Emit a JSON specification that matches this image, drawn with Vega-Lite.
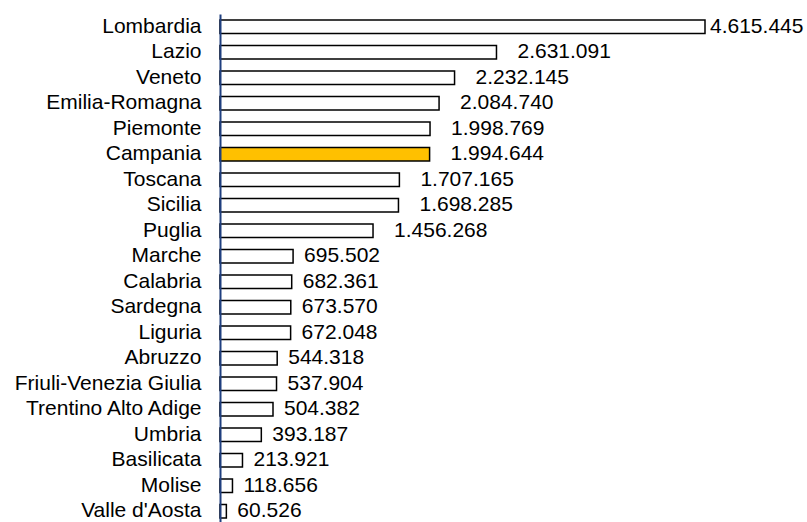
{
  "$schema": "https://vega.github.io/schema/vega-lite/v6.json",
  "width": 485,
  "height": 510,
  "autosize": {"type": "none"},
  "padding": {"left": 220, "top": 14, "right": 102, "bottom": 0},
  "background": "white",
  "config": {"view": {"stroke": null}, "font": "Liberation Sans"},
  "data": {"values": [
    {"regione": "Lombardia", "valore": 4615445},
    {"regione": "Lazio", "valore": 2631091},
    {"regione": "Veneto", "valore": 2232145},
    {"regione": "Emilia-Romagna", "valore": 2084740},
    {"regione": "Piemonte", "valore": 1998769},
    {"regione": "Campania", "valore": 1994644},
    {"regione": "Toscana", "valore": 1707165},
    {"regione": "Sicilia", "valore": 1698285},
    {"regione": "Puglia", "valore": 1456268},
    {"regione": "Marche", "valore": 695502},
    {"regione": "Calabria", "valore": 682361},
    {"regione": "Sardegna", "valore": 673570},
    {"regione": "Liguria", "valore": 672048},
    {"regione": "Abruzzo", "valore": 544318},
    {"regione": "Friuli-Venezia Giulia", "valore": 537904},
    {"regione": "Trentino Alto Adige", "valore": 504382},
    {"regione": "Umbria", "valore": 393187},
    {"regione": "Basilicata", "valore": 213921},
    {"regione": "Molise", "valore": 118656},
    {"regione": "Valle d'Aosta", "valore": 60526}
  ]},
  "transform": [
    {"calculate": "replace(format(datum.valore, ','), /,/g, '.')", "as": "etichetta"}
  ],
  "encoding": {
    "y": {
      "field": "regione", "type": "nominal", "sort": null,
      "scale": {"paddingInner": 0.47, "paddingOuter": 0.235},
      "axis": {
        "title": null, "ticks": false, "labelFontSize": 21, "labelColor": "black",
        "labelPadding": 19, "labelLimit": 400, "domainColor": "#1F3F7F", "domainWidth": 2,
        "labelFont": "Liberation Sans", "zindex": 1
      }
    },
    "x": {
      "field": "valore", "type": "quantitative",
      "scale": {"domain": [0, 4615445], "nice": false, "zero": true},
      "axis": null
    }
  },
  "layer": [
    {
      "mark": {"type": "bar", "stroke": "black", "strokeWidth": 1.5},
      "encoding": {
        "fill": {
          "condition": {"test": "datum.regione === 'Campania'", "value": "#FFC000"},
          "value": "white"
        }
      }
    },
    {
      "transform": [{"filter": "datum.valore >= 4000000"}],
      "mark": {"type": "text", "align": "left", "baseline": "middle", "dx": 5, "fontSize": 21, "color": "black"},
      "encoding": {"text": {"field": "etichetta"}}
    },
    {
      "transform": [{"filter": "datum.valore >= 1000000 && datum.valore < 4000000"}],
      "mark": {"type": "text", "align": "left", "baseline": "middle", "dx": 21, "fontSize": 21, "color": "black"},
      "encoding": {"text": {"field": "etichetta"}}
    },
    {
      "transform": [{"filter": "datum.valore < 1000000"}],
      "mark": {"type": "text", "align": "left", "baseline": "middle", "dx": 11, "fontSize": 21, "color": "black"},
      "encoding": {"text": {"field": "etichetta"}}
    }
  ]
}
